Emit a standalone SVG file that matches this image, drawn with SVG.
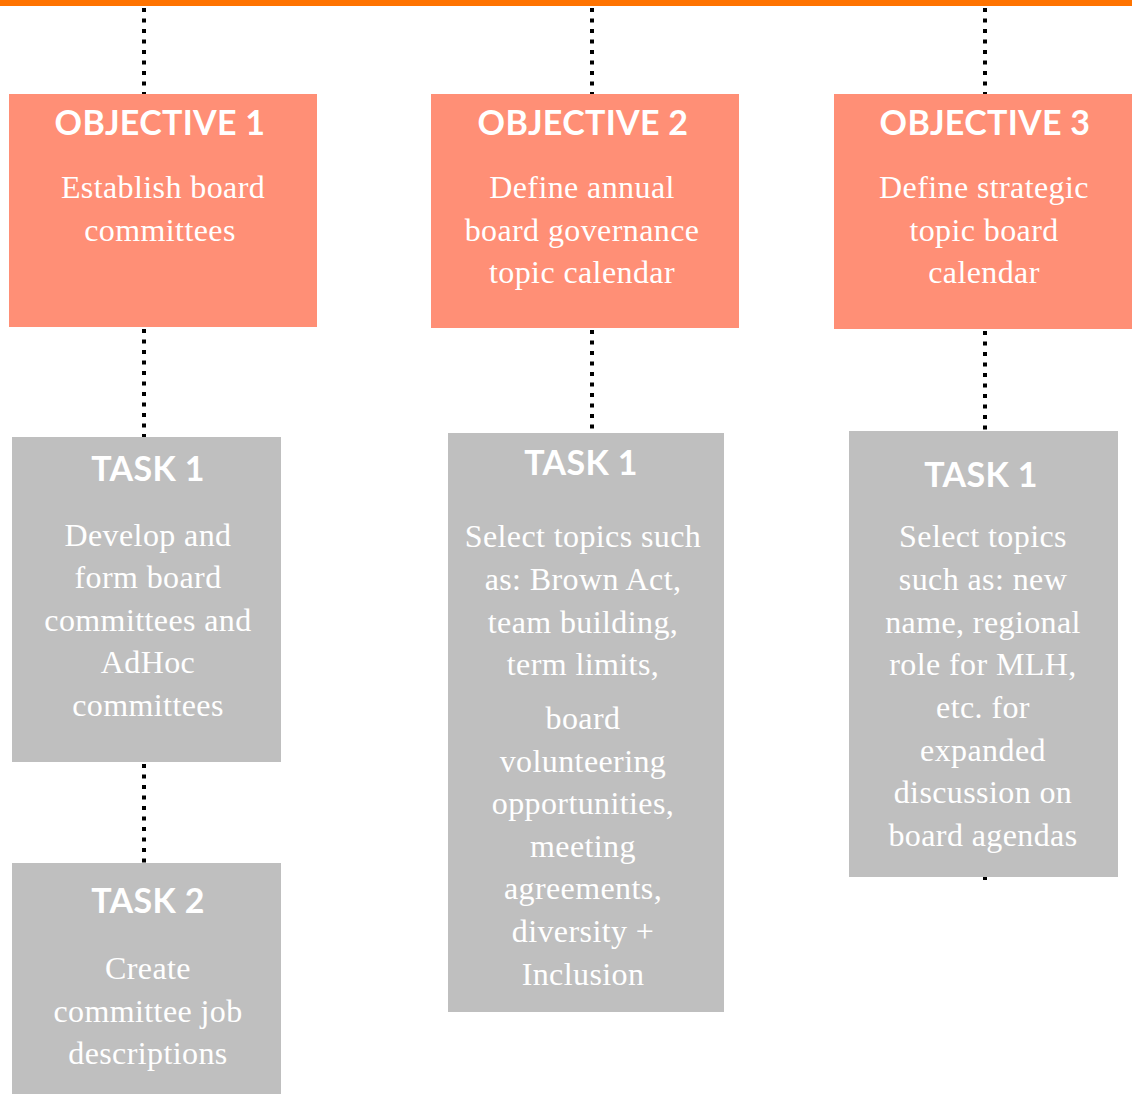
<svg xmlns="http://www.w3.org/2000/svg" width="1132" height="1095" viewBox="0 0 1132 1095">
<style>
.obj{fill:#FF8F76}
.task{fill:#BFBFBF}
.h{font-family:Lato,"Open Sans","Liberation Sans",sans-serif;font-weight:700;font-size:34px;fill:#fff;text-anchor:middle;letter-spacing:0.3px}
.b{font-family:"Liberation Serif","DejaVu Serif",serif;font-size:32px;fill:#fff;text-anchor:middle;letter-spacing:0.4px}
.dot{stroke:#000;stroke-width:4;stroke-dasharray:4 6.5;fill:none}
</style>
<rect x="0" y="0" width="1132" height="6" fill="#FF7300"/>
<g id="connectors">
<line class="dot" x1="144" y1="8" x2="144" y2="94"/>
<line class="dot" x1="144" y1="329" x2="144" y2="437"/>
<line class="dot" x1="144" y1="764" x2="144" y2="863"/>
<line class="dot" x1="592" y1="8" x2="592" y2="94"/>
<line class="dot" x1="592" y1="330" x2="592" y2="433"/>
<line class="dot" x1="985" y1="8" x2="985" y2="94"/>
<line class="dot" x1="985" y1="331" x2="985" y2="431"/>
<line class="dot" x1="985" y1="877" x2="985" y2="880"/>
</g>
<g id="objective1">
<rect class="obj" x="9" y="94" width="308" height="233"/>
<text class="h" x="160" y="135">OBJECTIVE 1</text>
<text class="b" x="163" y="198">Establish board</text>
<text class="b" x="160" y="241">committees</text>
</g>
<g id="objective2">
<rect class="obj" x="431" y="94" width="308" height="234"/>
<text class="h" x="583" y="135">OBJECTIVE 2</text>
<text class="b" x="582" y="198">Define annual</text>
<text class="b" x="582" y="241">board governance</text>
<text class="b" x="582" y="283">topic calendar</text>
</g>
<g id="objective3">
<rect class="obj" x="834" y="94" width="298" height="235"/>
<text class="h" x="985" y="135">OBJECTIVE 3</text>
<text class="b" x="984" y="198">Define strategic</text>
<text class="b" x="984" y="241">topic board</text>
<text class="b" x="984" y="283">calendar</text>
</g>
<g id="task1-col1">
<rect class="task" x="12" y="437" width="269" height="325"/>
<text class="h" x="148" y="481">TASK 1</text>
<text class="b" x="148" y="546">Develop and</text>
<text class="b" x="148" y="588">form board</text>
<text class="b" x="148" y="631">committees and</text>
<text class="b" x="148" y="673">AdHoc</text>
<text class="b" x="148" y="716">committees</text>
</g>
<g id="task2-col1">
<rect class="task" x="12" y="863" width="269" height="231"/>
<text class="h" x="148" y="913">TASK 2</text>
<text class="b" x="148" y="979">Create</text>
<text class="b" x="148" y="1022">committee job</text>
<text class="b" x="148" y="1064">descriptions</text>
</g>
<g id="task1-col2">
<rect class="task" x="448" y="433" width="276" height="579"/>
<text class="h" x="581" y="475">TASK 1</text>
<text class="b" x="583" y="547">Select topics such</text>
<text class="b" x="583" y="590">as: Brown Act,</text>
<text class="b" x="583" y="633">team building,</text>
<text class="b" x="583" y="675">term limits,</text>
<text class="b" x="583" y="729">board</text>
<text class="b" x="583" y="772">volunteering</text>
<text class="b" x="583" y="814">opportunities,</text>
<text class="b" x="583" y="857">meeting</text>
<text class="b" x="583" y="899">agreements,</text>
<text class="b" x="583" y="942">diversity +</text>
<text class="b" x="583" y="985">Inclusion</text>
</g>
<g id="task1-col3">
<rect class="task" x="849" y="431" width="269" height="446"/>
<text class="h" x="981" y="487">TASK 1</text>
<text class="b" x="983" y="547">Select topics</text>
<text class="b" x="983" y="590">such as: new</text>
<text class="b" x="983" y="633">name, regional</text>
<text class="b" x="983" y="675">role for MLH,</text>
<text class="b" x="983" y="718">etc. for</text>
<text class="b" x="983" y="761">expanded</text>
<text class="b" x="983" y="803">discussion on</text>
<text class="b" x="983" y="846">board agendas</text>
</g>
</svg>
